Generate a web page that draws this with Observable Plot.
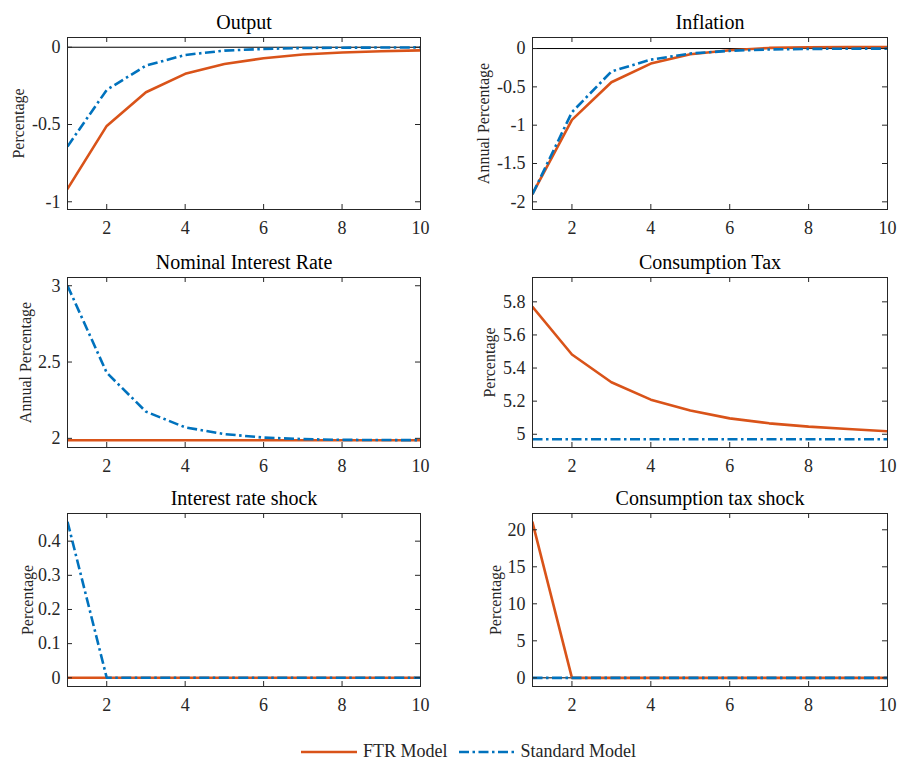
<!DOCTYPE html>
<html>
<head>
<meta charset="utf-8">
<script src="https://cdn.jsdelivr.net/npm/d3@7"></script>
<script src="https://cdn.jsdelivr.net/npm/@observablehq/plot@0.6"></script>
<style>
  html, body { margin: 0; padding: 0; background: #fff; }
  #wrap { position: relative; width: 899px; height: 766px; background: #fff; font-family: "Liberation Serif", "Times New Roman", serif; }
  .pnl { position: absolute; }
  .pnl svg, .pnl svg text { font-family: "Liberation Serif", "Times New Roman", serif !important; }
  #legend { position: absolute; left: 301px; top: 741px; display: flex; align-items: center; font-size: 18px; color: #262626; white-space: nowrap; }
  #legend svg { display: block; }
</style>
</head>
<body>
<div id="wrap"></div>
<script>
// ---- data ----
const periods = [1, 2, 3, 4, 5, 6, 7, 8, 9, 10];
const xTicks = [2, 4, 6, 8, 10];

const outputFTR = [-0.916, -0.509, -0.291, -0.172, -0.108, -0.071, -0.047, -0.034, -0.026, -0.020];
const outputStd = [-0.642, -0.276, -0.119, -0.050, -0.022, -0.011, -0.005, -0.003, -0.002, -0.001];

const inflationFTR = [-1.895, -0.93, -0.44, -0.196, -0.074, -0.022, 0.008, 0.017, 0.02, 0.02];
const inflationStd = [-1.90, -0.83, -0.30, -0.145, -0.065, -0.030, -0.012, -0.005, -0.002, -0.001];

const nomRateFTR = [1.988, 1.988, 1.988, 1.988, 1.988, 1.988, 1.988, 1.988, 1.988, 1.988];
const nomRateStd = [3.0, 2.43, 2.175, 2.072, 2.028, 2.005, 1.995, 1.99, 1.989, 1.988];

const consTaxFTR = [5.77, 5.482, 5.314, 5.209, 5.143, 5.096, 5.066, 5.046, 5.032, 5.018];
const consTaxStd = [4.97, 4.97, 4.97, 4.97, 4.97, 4.97, 4.97, 4.97, 4.97, 4.97];

const irShockFTR = [0, 0, 0, 0, 0, 0, 0, 0, 0, 0];
const irShockStd = [0.457, 0, 0, 0, 0, 0, 0, 0, 0, 0];

const ctShockFTR = [21.0, 0, 0, 0, 0, 0, 0, 0, 0, 0];
const ctShockStd = [0, 0, 0, 0, 0, 0, 0, 0, 0, 0];

const titles = ["Output", "Inflation", "Nominal Interest Rate", "Consumption Tax", "Interest rate shock", "Consumption tax shock"];
const yLabels = ["Percentage", "Annual Percentage", "Annual Percentage", "Percentage", "Percentage", "Percentage"];
const yTickSets = [
  [-1, -0.5, 0],
  [-2, -1.5, -1, -0.5, 0],
  [2, 2.5, 3],
  [5, 5.2, 5.4, 5.6, 5.8],
  [0, 0.1, 0.2, 0.3, 0.4],
  [0, 5, 10, 15, 20]
];
const yDomains = [
  [-1.05, 0.063],
  [-2.1, 0.144],
  [1.94, 3.054],
  [4.92, 5.947],
  [-0.0255, 0.481],
  [-1.17, 22.2]
];
const seriesNames = ["FTR Model", "Standard Model"];

// ---- style ----
const ORANGE = "#D95319";
const BLUE = "#0072BD";
const AX = "#262626";
const FONT = "Liberation Serif, Times New Roman, serif";
const DASH = "10,3.5,2.5,3.5";
const LW = 2.6;
const TICK = 5;
const fmt = d => String(d);

function panel(i, cfg) {
  const ftr = cfg.ftr, std = cfg.std;
  const data = periods.map((p, k) => ({t: p, ftr: ftr[k], std: std[k]}));
  const ticksY = yTickSets[i];
  const fw = cfg.width - cfg.ml - cfg.mr;
  const fh = cfg.height - cfg.mt - cfg.mb;
  const svg = Plot.plot({
    width: cfg.width, height: cfg.height,
    marginTop: cfg.mt, marginBottom: cfg.mb, marginLeft: cfg.ml, marginRight: cfg.mr,
    style: {fontFamily: FONT, fontSize: "18px", color: AX, background: "transparent", overflow: "visible"},
    x: {domain: [1, 10]},
    y: {domain: yDomains[i]},
    marks: [
      cfg.zero ? Plot.ruleY([0], {stroke: "#000", strokeWidth: 1}) : null,
      Plot.line(data, {x: "t", y: "ftr", stroke: ORANGE, strokeWidth: LW, clip: true}),
      Plot.line(data, {x: "t", y: "std", stroke: BLUE, strokeWidth: LW, strokeDasharray: DASH, strokeLinecap: "butt", clip: true}),
      Plot.frame({stroke: AX, strokeWidth: 1}),
      Plot.axisX(xTicks, {anchor: "bottom", tickSize: 0, tickPadding: 12, tickFormat: fmt, label: null, fontSize: 18, fontFamily: FONT, fill: AX}),
      Plot.axisY(ticksY, {anchor: "left", tickSize: 0, tickPadding: 7, tickFormat: fmt, label: null, fontSize: 18, fontFamily: FONT, fill: AX}),
      // inward ticks on all four sides
      Plot.ruleX(xTicks, {x: d => d, insetTop: fh - TICK, stroke: AX}),
      Plot.ruleX(xTicks, {x: d => d, insetBottom: fh - TICK, stroke: AX}),
      Plot.ruleY(ticksY, {y: d => d, insetRight: fw - TICK, stroke: AX}),
      Plot.ruleY(ticksY, {y: d => d, insetLeft: fw - TICK, stroke: AX}),
      Plot.text([titles[i]], {text: d => d, frameAnchor: "top", dy: -9, lineAnchor: "bottom", textAnchor: "middle", fontSize: 20, fontFamily: FONT, fill: "#000"}),
      Plot.text([yLabels[i]], {text: d => d, frameAnchor: "left", rotate: -90, dx: cfg.labelDx, lineAnchor: "middle", textAnchor: "middle", fontSize: 16, fontFamily: FONT, fill: AX})
    ]
  });
  svg.style.fontFamily = FONT;
  return svg;
}

const wrap = document.getElementById("wrap");
const LEFT = {left: 0, width: 450, ml: 67, mr: 30};
const RIGHT = {left: 450, width: 449, ml: 82, mr: 12};
const ROWS = [
  {top: 0, height: 240, mt: 37, mb: 31},
  {top: 240, height: 230, mt: 37, mb: 23},
  {top: 470, height: 240, mt: 43, mb: 24}
];
const cfgs = [
  {col: LEFT, row: ROWS[0], ftr: outputFTR, std: outputStd, zero: true, labelDx: -49},
  {col: RIGHT, row: ROWS[0], ftr: inflationFTR, std: inflationStd, zero: true, labelDx: -49},
  {col: LEFT, row: ROWS[1], ftr: nomRateFTR, std: nomRateStd, zero: false, labelDx: -42},
  {col: RIGHT, row: ROWS[1], ftr: consTaxFTR, std: consTaxStd, zero: false, labelDx: -43},
  {col: LEFT, row: ROWS[2], ftr: irShockFTR, std: irShockStd, zero: true, labelDx: -40},
  {col: RIGHT, row: ROWS[2], ftr: ctShockFTR, std: ctShockStd, zero: true, labelDx: -37}
];
cfgs.forEach((c, i) => {
  const svg = panel(i, {
    ftr: c.ftr, std: c.std, zero: c.zero, labelDx: c.labelDx,
    width: c.col.width, height: c.row.height,
    mt: c.row.mt, mb: c.row.mb, ml: c.col.ml, mr: c.col.mr
  });
  const d = document.createElement("div");
  d.className = "pnl";
  d.style.left = c.col.left + "px";
  d.style.top = c.row.top + "px";
  d.appendChild(svg);
  wrap.appendChild(d);
});

// ---- legend ----
const legend = document.createElement("div");
legend.id = "legend";
const swatch = (color, dash) => {
  const ns = "http://www.w3.org/2000/svg";
  const s = document.createElementNS(ns, "svg");
  s.setAttribute("width", "56"); s.setAttribute("height", "20");
  const l = document.createElementNS(ns, "line");
  l.setAttribute("x1", "0"); l.setAttribute("x2", "56");
  l.setAttribute("y1", "10"); l.setAttribute("y2", "10");
  l.setAttribute("stroke", color); l.setAttribute("stroke-width", String(LW));
  if (dash) l.setAttribute("stroke-dasharray", dash);
  s.appendChild(l);
  return s;
};
[[ORANGE, null], [BLUE, DASH]].forEach(([col, dash], k) => {
  const sw = swatch(col, dash);
  if (k > 0) sw.style.marginLeft = "11px";
  legend.appendChild(sw);
  const sp = document.createElement("span");
  sp.textContent = seriesNames[k];
  sp.style.marginLeft = "6px";
  legend.appendChild(sp);
});
wrap.appendChild(legend);
</script>
</body>
</html>
